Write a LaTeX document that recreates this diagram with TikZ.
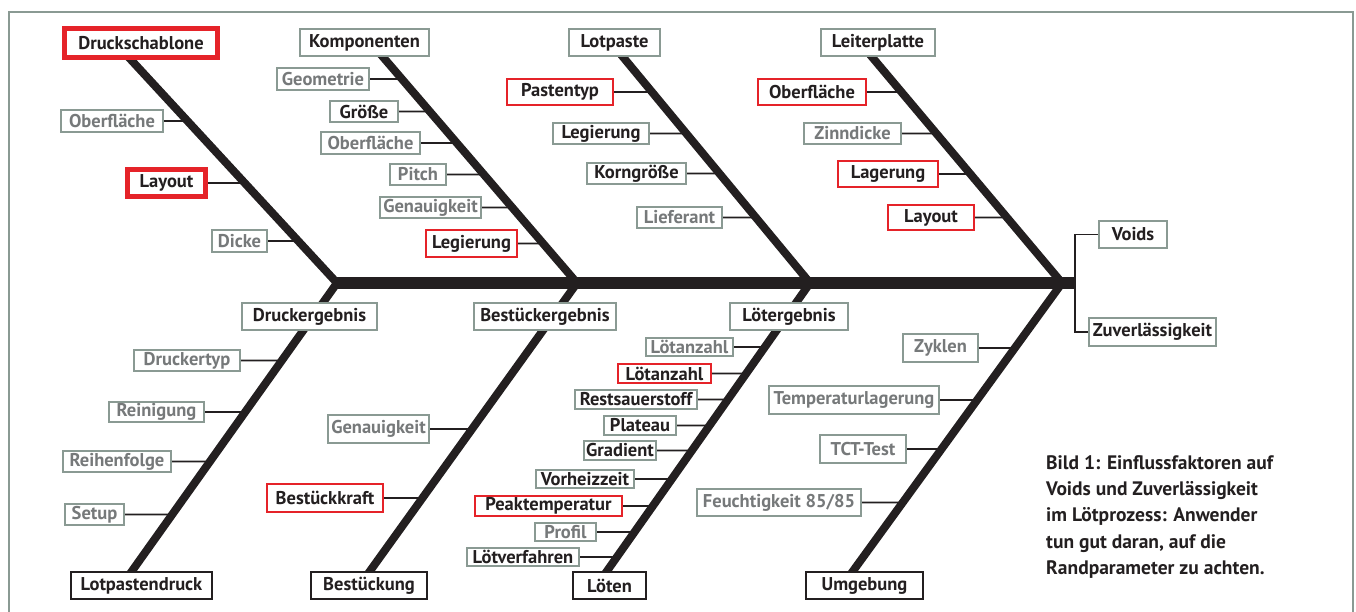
\documentclass[tikz,border=0pt]{standalone}
\usepackage{fontspec}
\setmainfont{PT Sans}
\usetikzlibrary{calc}
\pgfdeclarelayer{bg}
\pgfsetlayers{bg,main}
\definecolor{ink}{HTML}{231F20}
\definecolor{gline}{HTML}{8A9A93}
\definecolor{gtext}{HTML}{76797A}
\definecolor{rline}{HTML}{E52329}
\begin{document}
\begin{tikzpicture}[x=1pt,y=-1pt,
 lab/.style={font=\fontsize{18.5}{20}\selectfont\bfseries, inner sep=0pt, fill=white, line width=2pt, align=center},
 sz/.style 2 args={minimum width={#1pt-2pt}, minimum height={#2pt-2pt}},
 Sz/.style 2 args={minimum width={#1pt-5pt}, minimum height={#2pt-5pt}},
 gbox/.style={lab, draw=gline, text=gtext},
 kbox/.style={lab, draw=gline, text=ink},
 rbox/.style={lab, draw=rline, text=ink},
 Rbox/.style={lab, draw=rline, text=ink, line width=5pt},
 bbox/.style={lab, draw=ink, text=ink},
 bone/.style={draw=ink, line width=8pt, line join=miter, shorten <=-8pt, shorten >=-8pt},
 spine/.style={draw=ink, line width=12pt},
 twig/.style={draw=ink, line width=1.8pt},
]
\useasboundingbox (0,0) rectangle (1356,612);
\draw[gline, line width=2pt] (9,620) -- (9,12) -- (1353,12) -- (1353,620);

% bone geometry
\coordinate (T1) at (133,62);  \coordinate (J1) at (337,283); \coordinate (B1) at (132,571);
\coordinate (T2) at (383,57);  \coordinate (J2) at (577,283); \coordinate (B2) at (370,571);
\coordinate (T3) at (623,57);  \coordinate (J3) at (810,283); \coordinate (B3) at (607,571);
\coordinate (T4) at (872,57);  \coordinate (J4) at (1062,283); \coordinate (B4) at (853,571);
\coordinate (K) at (1075,283);

% top headers
\node[Rbox, Sz={158}{34}] (ds) at (141,43) {Druckschablone};
\node[kbox, sz={131}{29}] (kp) at (364.5,42.5) {Komponenten};
\node[kbox, sz={93}{29}] (lp) at (614.5,42.5) {Lotpaste};
\node[kbox, sz={116}{29}] (lt) at (878,42.5) {Leiterplatte};

% branch 1
\node[gbox, sz={104}{24}] (ob1) at (112,121) {Oberfläche};
\node[Rbox, Sz={83}{32}] (la1) at (166.5,183) {Layout};
\node[gbox, sz={57}{24}] (di1) at (239.5,241) {Dicke};

% branch 2
\node[gbox, sz={94}{24}] (ge2) at (323,79) {Geometrie};
\node[kbox, sz={70}{23}] (gr2) at (364,111.5) {Größe};
\node[gbox, sz={101}{24}] (ob2) at (370.5,143) {Oberfläche};
\node[gbox, sz={58}{23}] (pi2) at (418,174.5) {Pitch};
\node[gbox, sz={103}{23}] (gn2) at (430.5,207.5) {Genauigkeit};
\node[rbox, sz={93}{29}] (le2) at (471.5,243.5) {Legierung};

% branch 3
\node[rbox, sz={108}{28}] (pa3) at (560,92) {Pastentyp};
\node[kbox, sz={98}{23}] (le3) at (601,133.5) {Legierung};
\node[kbox, sz={101}{23}] (ko3) at (636.5,173.5) {Korngröße};
\node[gbox, sz={87}{23}] (li3) at (679.5,217.5) {Lieferant};

% branch 4
\node[rbox, sz={110}{28}] (ob4) at (812,92) {Oberfläche};
\node[gbox, sz={99}{23}] (zi4) at (852.5,133.5) {Zinndicke};
\node[rbox, sz={102}{28}] (lg4) at (888,174) {Lagerung};
\node[rbox, sz={88}{27}] (ly4) at (931,217.5) {Layout};

% effects
\node[kbox, sz={70}{29}] (vo) at (1133,234.5) {Voids};
\node[kbox, sz={129}{30}] (zv) at (1152.5,332) {Zuverlässigkeit};

% bottom headers
\node[kbox, sz={137}{29}] (de) at (309.5,316.5) {Druckergebnis};
\node[kbox, sz={144}{29}] (be) at (545,316.5) {Bestückergebnis};
\node[kbox, sz={120}{29}] (lr) at (789,316.5) {Lötergebnis};

% bottom boxes
\node[bbox, sz={143}{29}] (lpd) at (141.5,585.5) {Lotpastendruck};
\node[bbox, sz={118}{29}] (bst) at (369,585.5) {Bestückung};
\node[bbox, sz={75}{29}] (lot) at (609.5,585.5) {Löten};
\node[bbox, sz={119}{29}] (umg) at (864.5,585.5) {Umgebung};

% branch B1
\node[gbox, sz={108}{23}] (dt) at (187,360.5) {Druckertyp};
\node[gbox, sz={97}{22}] (rn) at (156.5,412) {Reinigung};
\node[gbox, sz={110}{23}] (rf) at (117,461.5) {Reihenfolge};
\node[gbox, sz={61}{23}] (su) at (94.5,514.5) {Setup};

% branch B2
\node[gbox, sz={103}{30}] (gn5) at (378.5,429) {Genauigkeit};
\node[rbox, sz={118}{30}] (bk) at (325,498) {Bestückkraft};

% branch B3
\node[gbox, sz={89}{20}] (lag) at (689.5,347) {Lötanzahl};
\node[rbox, sz={95}{21}] (lar) at (664.5,373.5) {Lötanzahl};
\node[kbox, sz={124}{21}] (rs) at (636,399.5) {Restsauerstoff};
\node[kbox, sz={74}{21}] (pl) at (640,425.5) {Plateau};
\node[kbox, sz={74}{21}] (gd) at (620,450.5) {Gradient};
\node[kbox, sz={100}{20}] (vz) at (585,479) {Vorheizzeit};
\node[rbox, sz={149}{22}] (pk) at (548.5,506) {Peaktemperatur};
\node[gbox, sz={63}{20}] (pf) at (565.5,532) {Profil};
\node[kbox, sz={114}{20}] (lv) at (523,557) {Lötverfahren};

% branch B4
\node[gbox, sz={77}{30}] (zy) at (940.5,348) {Zyklen};
\node[gbox, sz={172}{30}] (tl) at (854,400) {Temperaturlagerung};
\node[gbox, sz={88}{30}] (tc) at (863,449) {TCT-Test};
\node[gbox, sz={166}{29}] (fe) at (779,502.5) {Feuchtigkeit 85/85};

% caption
\node[anchor=north west, inner sep=0pt, align=left, text=ink,
      font=\fontsize{19.5}{26.3}\selectfont\bfseries] (cap) at (1046,455)
 {Bild 1: Einflussfaktoren auf\\Voids und Zuverlässigkeit\\im Lötprozess: Anwender\\tun gut daran, auf die\\Randparameter zu achten.};

\begin{pgfonlayer}{bg}
 \foreach \n/\t/\j in {ob1/T1/J1, la1/T1/J1, di1/T1/J1,
   ge2/T2/J2, gr2/T2/J2, ob2/T2/J2, pi2/T2/J2, gn2/T2/J2, le2/T2/J2,
   pa3/T3/J3, le3/T3/J3, ko3/T3/J3, li3/T3/J3,
   ob4/T4/J4, zi4/T4/J4, lg4/T4/J4, ly4/T4/J4,
   dt/B1/J1, rn/B1/J1, rf/B1/J1, su/B1/J1,
   gn5/B2/J2, bk/B2/J2,
   lag/B3/J3, lar/B3/J3, rs/B3/J3, pl/B3/J3, gd/B3/J3, vz/B3/J3, pk/B3/J3, pf/B3/J3, lv/B3/J3,
   zy/B4/J4, tl/B4/J4, tc/B4/J4, fe/B4/J4}
   {\draw[twig] (\n.east) -- (intersection of \n.east--\n.west and \t--\j);}
 \draw[twig] (vo.west) -| (K) |- (zv.west);
 \draw[spine] (J1) -- (K);
 \draw[bone] (T1) -- (J1) -- (B1);
 \draw[bone] (T2) -- (J2) -- (B2);
 \draw[bone] (T3) -- (J3) -- (B3);
 \draw[bone] (T4) -- (J4) -- (B4);
\end{pgfonlayer}
\end{tikzpicture}
\end{document}
